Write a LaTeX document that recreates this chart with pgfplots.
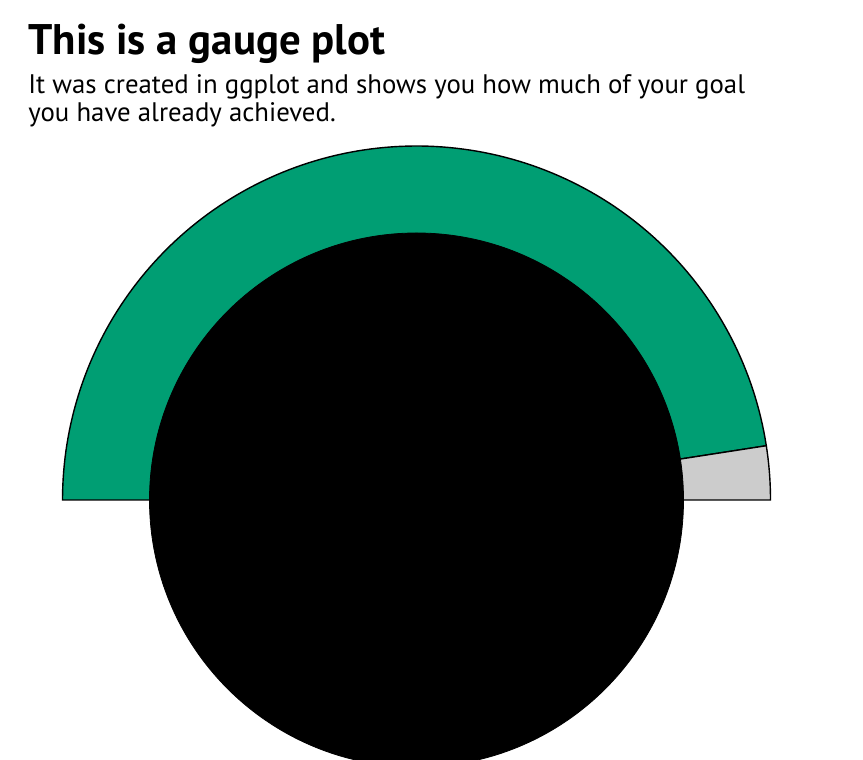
\documentclass[border=0pt]{standalone}
\usepackage{pgfplots}
\pgfplotsset{compat=1.18}
\usepackage{fontspec}
\setmainfont{PT Sans}

\definecolor{gaugegreen}{HTML}{009E73}
\definecolor{gaugegrey}{HTML}{CCCCCC}

% share of the goal that is reached (percent)
\def\achieved{95.1}

\begin{document}
\begin{tikzpicture}
\begin{axis}[
  width=431.5pt, height=380pt,
  scale only axis,
  xmin=-416.5, xmax=446.5,
  ymin=-260, ymax=500,
  hide axis,
  clip=false,
]
% achieved part
\addplot[fill=gaugegreen, draw=black, line width=0.7pt,
  domain=0:\achieved, samples=150, variable=\t]
  ({-354*cos(1.8*t)}, {354*sin(1.8*t)}) -- (0,0) -- cycle;
% remaining part
\addplot[fill=gaugegrey, draw=black, line width=0.7pt,
  domain=\achieved:100, samples=20, variable=\t]
  ({-354*cos(1.8*t)}, {354*sin(1.8*t)}) -- (0,0) -- cycle;
% centre disc
\addplot[only marks, mark=*, mark size=133.5pt, color=black]
  coordinates {(0,0)};

\node[anchor=base west, inner sep=0pt, font=\fontsize{21.4}{25}\selectfont\bfseries]
  at (-388.5,445) {This is a gauge plot};
\node[anchor=base west, inner sep=0pt, font=\fontsize{13.4}{16}\selectfont]
  at (-388.5,406) {It was created in ggplot and shows you how much of your goal};
\node[anchor=base west, inner sep=0pt, font=\fontsize{13.4}{16}\selectfont]
  at (-388.5,378.3) {you have already achieved.};
\end{axis}
\pgfresetboundingbox
\path (current axis.south west) rectangle (current axis.north east);
\end{tikzpicture}
\end{document}
